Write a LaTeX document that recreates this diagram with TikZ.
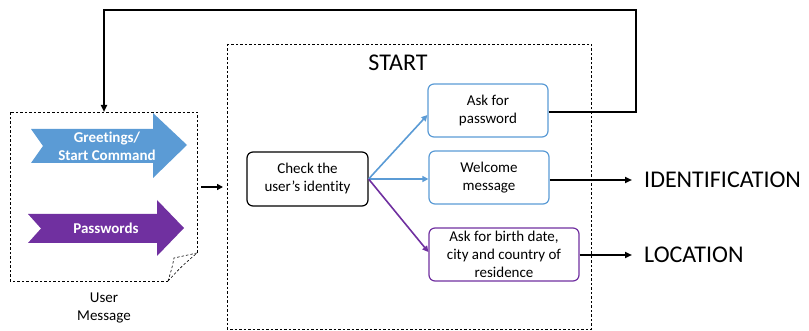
\documentclass[tikz,border=0pt]{standalone}
\usepackage{fontspec}
\setmainfont{Carlito}[Ligatures=NoCommon]
\usetikzlibrary{arrows.meta}
\definecolor{msgblue}{HTML}{5B9BD5}
\definecolor{msgpurple}{HTML}{7030A0}
\tikzset{
  every node/.style={font=\fontsize{15}{18}\selectfont},
  stepbox/.style={draw, line width=1.2pt, rounded corners=6pt, align=center, inner sep=0pt},
  framebox/.style={draw, dashed, line width=0.6pt, dash pattern=on 2.5pt off 2pt},
  link/.style={line width=1.6pt, -{Triangle[length=6pt,width=6pt]}},
  flow/.style={line width=1.8pt, -{Triangle[length=7pt,width=6pt]}},
  bigword/.style={font=\fontsize{24}{28}\selectfont, anchor=west, inner sep=0pt},
  arrowtext/.style={white, align=center, font=\fontsize{15}{18}\bfseries\selectfont},
}
\begin{document}
\begin{tikzpicture}[x=1pt,y=-1pt]
\useasboundingbox (0,0) rectangle (809,331);

% user message sheet with folded corner
\draw[framebox] (168,281) -- (10,281) -- (10,112) -- (197,112) -- (197,253);
\draw[framebox] (168,281) .. controls (172,268) .. (174,258) -- (197,253);
\draw[framebox] (168,281) .. controls (182,266) .. (197,253);
\coordinate (msgtop) at (104,112);
\node[align=center] (usermsg) at (104,308) {User\\Message};

% message kinds as notched arrows
\fill[msgblue] (31,129) -- (153,129) -- (153,113) -- (187,145) -- (153,178) -- (153,163) -- (31,163) -- (43,146) -- cycle;
\node[arrowtext] (greet) at (107,146) {Greetings/\\Start Command};
\fill[msgpurple] (28,214) -- (157,214) -- (157,200) -- (184,228) -- (157,256) -- (157,243) -- (28,243) -- (41,228.5) -- cycle;
\node[arrowtext] (pwd) at (106,228) {Passwords};

% start frame
\draw[framebox] (227,44) rectangle (591,329);
\node[font=\fontsize{24}{28}\selectfont] (start) at (398,63) {START};

\coordinate (msgout) at (201,187);
\coordinate (startin) at (223,187);
\draw[line width=1.6pt, -{Triangle[length=6pt,width=6pt]}] (msgout) -- (startin);

% steps
\node[stepbox, minimum width=121pt, minimum height=54pt] (check) at (307.5,179) {Check the\\user’s identity};
\node[stepbox, draw=msgblue, minimum width=120pt, minimum height=53pt] (askpw) at (488,110.5) {Ask for\\password};
\node[stepbox, draw=msgblue, minimum width=120pt, minimum height=53pt] (welcome) at (489,177.5) {Welcome\\message};
\node[stepbox, draw=msgpurple, minimum width=150pt, minimum height=53pt] (askloc) at (504,254.5) {Ask for birth date,\\city and country of\\residence};

\draw[link, msgblue] (check.east) -- (askpw.west |- 0,115);
\draw[link, msgblue] (check.east) -- (welcome.west |- 0,179);
\draw[link, msgpurple] (check.east) -- (askloc.west |- 0,252);

% outcomes
\node[bigword] (ident) at (644,180) {IDENTIFICATION};
\node[bigword] (loc) at (644,255) {LOCATION};
\draw[flow, shorten >=12pt] (welcome.east |- 0,180) -- (ident.west);
\draw[flow, shorten >=12pt] (askloc.east |- 0,255) -- (loc.west);

% loop back to the user message
\draw[flow] (askpw.east |- 0,112) -- (636,112) -- (636,10) -- (104,10) -- (msgtop);
\end{tikzpicture}
\end{document}
